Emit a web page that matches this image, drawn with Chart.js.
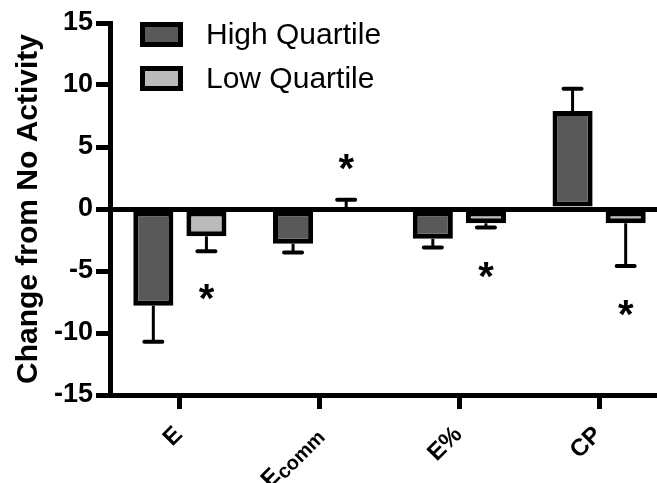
<!DOCTYPE html>
<html>
<head>
<meta charset="utf-8">
<script src="https://cdn.jsdelivr.net/npm/chart.js@4/dist/chart.umd.min.js"></script>
<style>
  html, body { margin: 0; padding: 0; background: #fff; overflow: hidden; }
  #wrap { width: 680px; height: 483px; }
</style>
</head>
<body>
<div id="wrap"><canvas id="chart" width="680" height="483"></canvas></div>
<script>
// categories; text after "_" is drawn as a subscript
const categories = ['E', 'E_comm', 'E%', 'CP'];
const seriesNames = ['High Quartile', 'Low Quartile'];

// mean change from no activity
const highValues = [-7.8, -2.8, -2.4, 7.9];
const lowValues = [-2.2, 0, -1.15, -1.15];

// error bar lengths (drawn away from zero)
const highErr = [2.9, 0.7, 0.7, 1.8];
const lowErr = [1.2, 0.75, 0.35, 3.45];

// significance markers (value where * sits), for the low quartile bars
const starValues = [-6.7, 3.8, -4.9, -8.0];

const yTicks = [-15, -10, -5, 0, 5, 10, 15];

const FONT = "'Liberation Sans', Arial, Helvetica, sans-serif";
const DARK = '#595959';
const LIGHT = '#bababa';

const extras = {
    id: 'extras',
    afterDatasetsDraw(chart) {
        const ctx = chart.ctx;
        const y = chart.scales.y;
        const x = chart.scales.x;

        // error bars
        ctx.save();
        ctx.strokeStyle = '#000';
        [[highValues, highErr], [lowValues, lowErr]].forEach(([vals, errs], di) => {
            const meta = chart.getDatasetMeta(di);
            meta.data.forEach((bar, i) => {
                const v = vals[i];
                const end = v + (v >= 0 ? 1 : -1) * errs[i];
                const y0 = y.getPixelForValue(v);
                const y1 = y.getPixelForValue(end);
                ctx.lineWidth = 3;
                ctx.lineCap = 'butt';
                ctx.beginPath();
                ctx.moveTo(bar.x, y0);
                ctx.lineTo(bar.x, y1);
                ctx.stroke();
                ctx.lineWidth = 4;
                ctx.lineCap = 'round';
                ctx.beginPath();
                ctx.moveTo(bar.x - 9, y1);
                ctx.lineTo(bar.x + 9, y1);
                ctx.stroke();
            });
        });

        // asterisks
        ctx.fillStyle = '#000';
        ctx.font = 'bold 40px ' + FONT;
        ctx.textAlign = 'center';
        ctx.textBaseline = 'alphabetic';
        const m = ctx.measureText('*');
        const lowMeta = chart.getDatasetMeta(1);
        starValues.forEach((s, i) => {
            const cy = y.getPixelForValue(s);
            ctx.fillText('*', lowMeta.data[i].x, cy + (m.actualBoundingBoxAscent - m.actualBoundingBoxDescent) / 2);
        });

        // legend
        const fills = [DARK, LIGHT];
        ctx.font = '30px ' + FONT;
        ctx.textAlign = 'left';
        ctx.textBaseline = 'middle';
        seriesNames.forEach((name, i) => {
            const top = 22 + i * 44;
            ctx.fillStyle = '#000';
            ctx.fillRect(140, top, 43, 25);
            ctx.fillStyle = fills[i];
            ctx.fillRect(145, top + 5, 33, 15);
            ctx.fillStyle = '#000';
            ctx.fillText(name, 206, top + 14);
        });

        // rotated category labels
        categories.forEach((c, i) => {
            const tx = x.getPixelForValue(i);
            const [main, sub] = c.split('_');
            ctx.save();
            ctx.translate(tx - 1, 431);
            ctx.rotate(-Math.PI / 4);
            ctx.textAlign = 'right';
            ctx.textBaseline = 'middle';
            let endX = 0;
            if (sub) {
                ctx.font = 'bold 20px ' + FONT;
                ctx.fillText(sub, 0, 5);
                endX = -ctx.measureText(sub).width;
            }
            ctx.font = 'bold 24px ' + FONT;
            ctx.fillText(main, endX, 0);
            ctx.restore();
        });
        ctx.restore();
    }
};

new Chart(document.getElementById('chart'), {
    type: 'bar',
    data: {
        labels: categories,
        datasets: [
            {
                label: seriesNames[0],
                data: highValues,
                backgroundColor: DARK,
                borderColor: '#000',
                borderWidth: 5,
                borderSkipped: false,
                categoryPercentage: 0.76,
                barPercentage: 0.755
            },
            {
                label: seriesNames[1],
                data: lowValues,
                backgroundColor: LIGHT,
                borderColor: '#000',
                borderWidth: 5,
                borderSkipped: false,
                categoryPercentage: 0.76,
                barPercentage: 0.755
            }
        ]
    },
    options: {
        responsive: false,
        animation: false,
        devicePixelRatio: 1,
        layout: { padding: { top: 23, right: 11, left: 0, bottom: 0 } },
        plugins: {
            legend: { display: false },
            tooltip: { enabled: false }
        },
        scales: {
            x: {
                afterFit: (s) => { s.height = 88; },
                grid: {
                    offset: false,
                    drawOnChartArea: false,
                    tickLength: 14,
                    tickWidth: 5,
                    tickColor: '#000'
                },
                border: { color: '#000', width: 5 },
                ticks: { display: false }
            },
            y: {
                min: -15,
                max: 15,
                afterFit: (s) => { s.width = 110; },
                afterBuildTicks: (s) => { s.ticks = yTicks.map(v => ({ value: v })); },
                grid: {
                    color: (c) => (c.tick && c.tick.value === 0 ? '#000' : 'rgba(0,0,0,0)'),
                    lineWidth: 5,
                    tickLength: 14,
                    tickWidth: 5,
                    tickColor: '#000'
                },
                border: { color: '#000', width: 5 },
                ticks: {
                    color: '#000',
                    padding: 3,
                    font: { family: FONT, size: 27, weight: 'bold' }
                },
                title: {
                    display: true,
                    text: 'Change from No Activity',
                    color: '#000',
                    font: { family: FONT, size: 30, weight: 'bold' },
                    padding: { top: 11, bottom: 0 }
                }
            }
        }
    },
    plugins: [extras]
});
</script>
</body>
</html>
